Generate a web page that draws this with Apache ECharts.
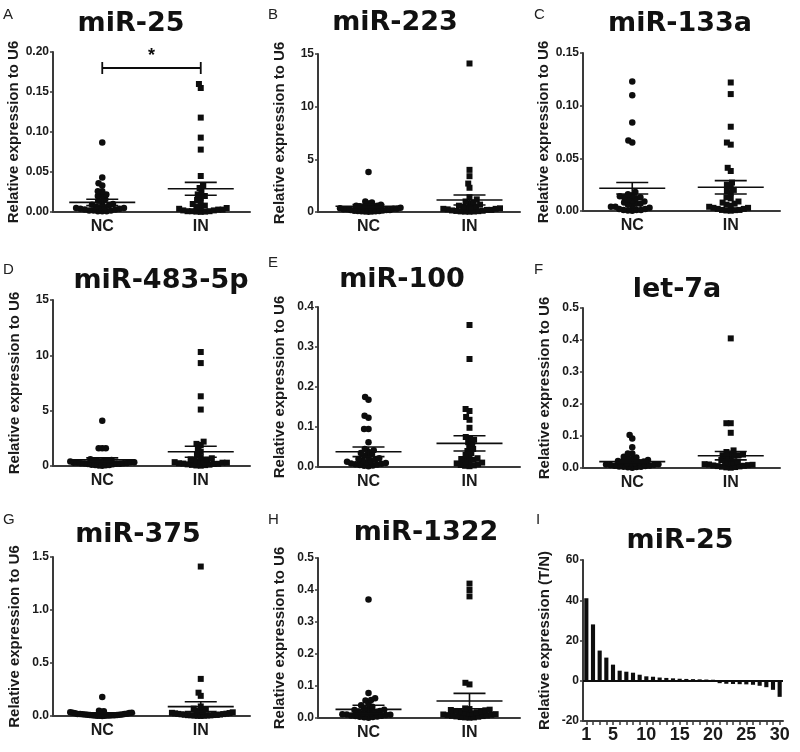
<!DOCTYPE html>
<html><head><meta charset="utf-8">
<script src="https://cdn.jsdelivr.net/npm/echarts@6/dist/echarts.min.js"></script>
<style>html,body{margin:0;padding:0;background:#fff}#c{width:800px;height:752px}</style>
</head><body><div id="c"></div>
<script>
// ---------------- DATA ----------------
const groups = ['NC', 'IN'];
const panelLetters = ['A','B','C','D','E','F','G','H','I'];
const panelTitles = ['miR-25','miR-223','miR-133a','miR-483-5p','miR-100','let-7a','miR-375','miR-1322','miR-25'];

const A_NC = [0.087,0.043,0.036,0.033,0.026,0.026,0.022,0.020,0.020,0.016,0.014,0.012,0.010,0.009,0.008,0.007,0.006,0.006,0.005,0.005,0.004,0.004,0.003,0.003,0.002,0.002,0.002,0.001,0.001,0.001];
const A_IN = [0.160,0.155,0.118,0.093,0.078,0.045,0.033,0.030,0.025,0.022,0.020,0.018,0.015,0.012,0.010,0.008,0.007,0.006,0.005,0.004,0.003,0.003,0.002,0.002,0.001,0.001,0.001,0.0005,0.0005,0.0002];
const B_NC = [3.8,1.0,0.9,0.8,0.7,0.6,0.6,0.55,0.5,0.5,0.45,0.4,0.4,0.35,0.3,0.3,0.25,0.25,0.2,0.2,0.18,0.15,0.12,0.1,0.1,0.08,0.06,0.05,0.04,0.03];
const B_IN = [14.1,4.0,3.4,2.7,2.3,1.4,1.2,1.0,0.9,0.8,0.7,0.6,0.5,0.5,0.45,0.4,0.35,0.3,0.3,0.25,0.2,0.2,0.15,0.12,0.1,0.08,0.06,0.05,0.04,0.03];
const C_NC = [0.123,0.110,0.084,0.067,0.065,0.018,0.016,0.015,0.014,0.013,0.013,0.012,0.011,0.010,0.009,0.008,0.007,0.007,0.006,0.005,0.004,0.004,0.003,0.002,0.002,0.001,0.001,0.001,0.0005,0.0003];
const C_IN = [0.122,0.111,0.080,0.065,0.063,0.041,0.038,0.027,0.025,0.023,0.020,0.019,0.017,0.013,0.012,0.009,0.008,0.007,0.006,0.005,0.004,0.003,0.003,0.002,0.002,0.001,0.001,0.0008,0.0005,0.0003];
const D_NC = [4.1,1.6,1.6,1.6,0.6,0.55,0.5,0.5,0.45,0.45,0.4,0.4,0.35,0.35,0.3,0.3,0.28,0.25,0.25,0.22,0.2,0.2,0.18,0.15,0.12,0.1,0.08,0.06,0.05,0.03];
const D_IN = [10.3,9.3,6.3,5.1,2.2,2.0,1.9,1.6,1.3,1.0,0.8,0.7,0.6,0.55,0.5,0.45,0.4,0.35,0.3,0.3,0.25,0.22,0.2,0.18,0.15,0.12,0.1,0.08,0.05,0.03];
const E_NC = [0.175,0.168,0.128,0.123,0.095,0.095,0.062,0.045,0.042,0.038,0.035,0.032,0.028,0.025,0.022,0.02,0.018,0.016,0.015,0.013,0.012,0.01,0.009,0.008,0.007,0.006,0.005,0.004,0.003,0.002];
const E_IN = [0.355,0.27,0.145,0.14,0.125,0.118,0.098,0.075,0.072,0.068,0.062,0.058,0.05,0.045,0.04,0.035,0.03,0.025,0.022,0.02,0.018,0.015,0.013,0.011,0.009,0.007,0.005,0.004,0.003,0.002];
const F_NC = [0.103,0.092,0.065,0.045,0.045,0.035,0.033,0.03,0.028,0.025,0.022,0.02,0.02,0.018,0.016,0.015,0.014,0.012,0.011,0.01,0.009,0.008,0.007,0.006,0.005,0.004,0.004,0.003,0.002,0.001];
const F_IN = [0.405,0.14,0.14,0.11,0.055,0.05,0.045,0.042,0.04,0.04,0.038,0.035,0.03,0.025,0.02,0.018,0.016,0.014,0.012,0.011,0.01,0.009,0.008,0.007,0.006,0.005,0.004,0.003,0.002,0.001];
const G_NC = [0.18,0.05,0.045,0.04,0.035,0.03,0.03,0.028,0.025,0.022,0.02,0.02,0.018,0.016,0.015,0.014,0.012,0.011,0.01,0.009,0.008,0.007,0.006,0.005,0.004,0.004,0.003,0.002,0.002,0.001];
const G_IN = [1.41,0.35,0.22,0.19,0.09,0.07,0.06,0.05,0.045,0.04,0.035,0.03,0.028,0.025,0.022,0.02,0.018,0.016,0.014,0.012,0.01,0.009,0.008,0.007,0.006,0.005,0.004,0.003,0.002,0.001];
const H_NC = [0.37,0.078,0.062,0.056,0.055,0.045,0.04,0.035,0.03,0.028,0.026,0.025,0.022,0.02,0.018,0.016,0.015,0.014,0.012,0.011,0.01,0.009,0.008,0.007,0.006,0.005,0.004,0.003,0.002,0.001];
const H_IN = [0.42,0.40,0.38,0.11,0.105,0.03,0.028,0.026,0.025,0.024,0.022,0.02,0.019,0.018,0.016,0.015,0.014,0.012,0.011,0.01,0.009,0.008,0.007,0.006,0.005,0.004,0.003,0.002,0.002,0.001];

// mean and SEM (panels A..H)
const meanNC = [0.012, 0.55, 0.0216, 0.55, 0.038, 0.020, 0.025, 0.027];
const semNC  = [0.004, 0.15, 0.0055, 0.18, 0.012, 0.004, 0.006, 0.013];
const meanIN = [0.029, 1.14, 0.0225, 1.29, 0.059, 0.0385, 0.088, 0.053];
const semIN  = [0.008, 0.47, 0.0063, 0.50, 0.019, 0.013, 0.047, 0.024];

// y-axis scales (panels A..H)
const yMax  = [0.20, 15, 0.15, 15, 0.4, 0.5, 1.5, 0.5];
const yStep = [0.05, 5, 0.05, 5, 0.1, 0.1, 0.5, 0.1];
const yDec  = [2, 0, 2, 0, 1, 1, 1, 1];

// significance bracket in panel A
const sigBracket = [[0.5, 1.5, 0.18]];
const sigLabel = '*';

// panel I
const I_labels = ['1','2','3','4','5','6','7','8','9','10','11','12','13','14','15','16','17','18','19','20','21','22','23','24','25','26','27','28','29','30'];
const I_values = [41,28,15,11.5,8,5,4.5,4,3,2.2,2,1.6,1.4,1.2,1.0,0.9,0.8,0.7,0.6,0.5,-1.2,-1.5,-1.6,-1.7,-1.8,-2,-2.5,-3.2,-4.5,-8];
const I_yTicks = [-20, 60, 20];

const ncSets = [A_NC,B_NC,C_NC,D_NC,E_NC,F_NC,G_NC,H_NC];
const inSets = [A_IN,B_IN,C_IN,D_IN,E_IN,F_IN,G_IN,H_IN];

// ---------------- LAYOUT ----------------
const layout = [
 {left:53, top:52, width:197, height:160},
 {left:318, top:54, width:202, height:158},
 {left:583, top:53, width:197, height:158},
 {left:53, top:300, width:197, height:166},
 {left:318, top:307, width:202, height:160},
 {left:583, top:308, width:197, height:160},
 {left:53, top:557, width:197, height:159},
 {left:318, top:558, width:202, height:160},
 {left:583, top:560, width:200, height:161}
];
const titlePos = [[131,24],[395,23],[680,24],[161,281],[402,280],[677,290],[138,535],[426,533],[680,541]];
const letterPos = [[3,7],[268,7],[534,7],[3,262],[268,255],[534,262],[3,512],[268,512],[536,512]];

const INK = '#0d0d0d';
const AX = '#3a3a3a';

// beeswarm layout of points, computed in pixel space from the values
function swarm(vals, center, g, ymax) {
  const pxY = g.height / ymax, pxX = g.width / 2, d = 4.4, maxHalf = 32;
  const sorted = vals.slice().sort((a,b)=>a-b);
  const placed = [];
  for (const v of sorted) {
    const y = v * pxY;
    const cands = [0];
    for (const p of placed) {
      const dy = Math.abs(p.y - y);
      if (dy < d) { const dx = Math.sqrt(d*d - dy*dy); cands.push(p.x + dx, p.x - dx); }
    }
    cands.sort((a,b)=>Math.abs(a)-Math.abs(b) || a-b);
    let best = 0;
    for (const c of cands) {
      if (placed.every(p => (p.x-c)*(p.x-c) + (p.y-y)*(p.y-y) >= d*d - 0.01)) { best = c; break; }
    }
    placed.push({x:best, y, v});
  }
  const widest = Math.max(1, ...placed.map(p => Math.abs(p.x)));
  const k = widest > maxHalf ? maxHalf / widest : 1;
  return placed.map(p => [center + p.x * k / pxX, p.v]);
}

function renderErr(params, api) {
  const x = api.value(0), m = api.value(1), s = api.value(2);
  const c = api.coord([x, m]), up = api.coord([x, m + s]), lo = api.coord([x, Math.max(m - s, 0)]);
  const st = {stroke: INK, lineWidth: 1.6};
  return {type:'group', children:[
    {type:'line', shape:{x1:c[0]-33, y1:c[1], x2:c[0]+33, y2:c[1]}, style:st},
    {type:'line', shape:{x1:up[0], y1:up[1], x2:lo[0], y2:lo[1]}, style:st},
    {type:'line', shape:{x1:up[0]-16, y1:up[1], x2:up[0]+16, y2:up[1]}, style:st},
    {type:'line', shape:{x1:lo[0]-16, y1:lo[1], x2:lo[0]+16, y2:lo[1]}, style:st}
  ]};
}
function renderBracket(params, api) {
  const a = api.coord([api.value(0), api.value(2)]), b = api.coord([api.value(1), api.value(2)]);
  const st = {stroke: INK, lineWidth: 1.8};
  return {type:'group', children:[
    {type:'line', shape:{x1:a[0], y1:a[1], x2:b[0], y2:b[1]}, style:st},
    {type:'line', shape:{x1:a[0], y1:a[1]-6, x2:a[0], y2:a[1]+6}, style:st},
    {type:'line', shape:{x1:b[0], y1:b[1]-6, x2:b[0], y2:b[1]+6}, style:st},
    {type:'text', style:{text: sigLabel, x:(a[0]+b[0])/2, y:a[1]-3, align:'center', verticalAlign:'bottom',
      font:'bold 18px Arial', fill: INK}}
  ]};
}

const grid = [], xAxis = [], yAxis = [], series = [], graphic = [];
const nameStyle = {fontFamily:'Arial', fontWeight:'bold', fontSize:15, color:'#1a1a1a'};
const tickLabel = {fontFamily:'Arial', fontWeight:'bold', fontSize:12, color:'#1a1a1a', margin:4};

for (let i = 0; i < 8; i++) {
  const g = layout[i];
  grid.push({left:g.left, top:g.top, width:g.width, height:g.height, containLabel:false});
  xAxis.push({gridIndex:i, type:'value', min:0, max:2, interval:0.5,
    axisLine:{show:true, onZero:false, lineStyle:{color:AX, width:2}},
    axisTick:{show:false}, splitLine:{show:false},
    axisLabel:{margin:7, fontFamily:'Arial', fontWeight:'bold', fontSize:16, color:'#1a1a1a',
      showMinLabel:true, showMaxLabel:true,
      formatter: v => Math.abs(v-0.5)<1e-9 ? groups[0] : (Math.abs(v-1.5)<1e-9 ? groups[1] : '')}
  });
  yAxis.push({gridIndex:i, type:'value', min:0, max:yMax[i], interval:yStep[i],
    name:'Relative expression to U6', nameLocation:'middle', nameGap:31, nameTextStyle:nameStyle,
    axisLine:{show:true, lineStyle:{color:AX, width:2}},
    axisTick:{show:true, length:3, lineStyle:{color:AX, width:1.5}},
    splitLine:{show:false},
    axisLabel:Object.assign({}, tickLabel, {formatter: v => v.toFixed(yDec[i])})
  });
  series.push({type:'scatter', xAxisIndex:i, yAxisIndex:i, symbol:'circle', symbolSize:6.5,
    itemStyle:{color:INK, opacity:1}, data: swarm(ncSets[i], 0.5, g, yMax[i]), z:2, silent:true});
  series.push({type:'scatter', xAxisIndex:i, yAxisIndex:i, symbol:'rect', symbolSize:6,
    itemStyle:{color:INK, opacity:1}, data: swarm(inSets[i], 1.5, g, yMax[i]), z:2, silent:true});
  series.push({type:'custom', xAxisIndex:i, yAxisIndex:i, renderItem:renderErr, z:3, silent:true,
    encode:{x:0, y:1},
    data:[[0.5, meanNC[i], semNC[i]], [1.5, meanIN[i], semIN[i]]]});
}
series.push({type:'custom', xAxisIndex:0, yAxisIndex:0, renderItem:renderBracket, z:4, silent:true,
  encode:{x:[0,1], y:2}, data: sigBracket});

// panel I
{
  const g = layout[8];
  grid.push({left:g.left, top:g.top, width:g.width, height:g.height, containLabel:false});
  xAxis.push({gridIndex:8, type:'category', data:I_labels, boundaryGap:true,
    axisLine:{show:true, onZero:false, lineStyle:{color:AX, width:2}},
    axisTick:{show:true, interval:0, alignWithLabel:true, length:4, lineStyle:{color:AX, width:1.5}},
    axisLabel:{interval:(idx)=> idx===0 || (idx+1)%5===0, margin:5, fontFamily:'Arial', fontWeight:'bold', fontSize:18, color:'#1a1a1a'},
    splitLine:{show:false}});
  yAxis.push({gridIndex:8, type:'value', min:I_yTicks[0], max:I_yTicks[1], interval:I_yTicks[2],
    name:'Relative expression (T/N)', nameLocation:'middle', nameGap:31, nameTextStyle:nameStyle,
    axisLine:{show:true, lineStyle:{color:AX, width:2}},
    axisTick:{show:true, length:3, lineStyle:{color:AX, width:1.5}},
    splitLine:{show:false},
    axisLabel:tickLabel});
  series.push({type:'bar', xAxisIndex:8, yAxisIndex:8, data:I_values, barWidth:'62%',
    itemStyle:{color:INK}, silent:true,
    markLine:{silent:true, symbol:['none','none'], label:{show:false},
      lineStyle:{color:INK, width:2, type:'solid'}, data:[{yAxis:0}]}});
}

for (let i = 0; i < 9; i++) {
  graphic.push({type:'text', left:letterPos[i][0], top:letterPos[i][1],
    style:{text:panelLetters[i], font:'15px Arial', fill:'#222'}});
  graphic.push({type:'text', x:titlePos[i][0], y:titlePos[i][1],
    style:{text:panelTitles[i], font:'bold 27px "DejaVu Sans"', fill:'#111', align:'center', verticalAlign:'middle'}});
}

const chart = echarts.init(document.getElementById('c'), null, {renderer:'canvas'});
chart.setOption({animation:false, backgroundColor:'#fff', grid, xAxis, yAxis, series, graphic});
</script></body></html>
